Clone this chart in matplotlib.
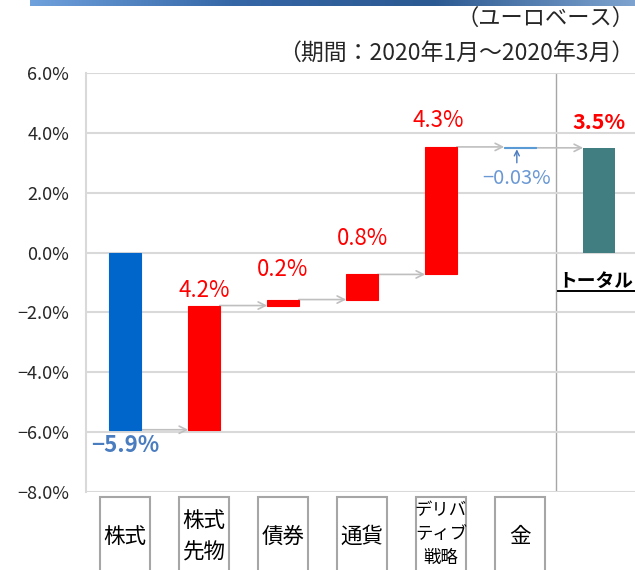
import numpy as np
import matplotlib.pyplot as plt
import matplotlib.transforms as mtransforms
from matplotlib.patches import Rectangle
from matplotlib.colors import LinearSegmentedColormap

plt.rcParams['font.family'] = ['Noto Sans CJK JP', 'DejaVu Sans']

# data
categories = ['株式', '株式\n先物', '債券', '通貨', 'デリバ\nティブ\n戦略', '金']
changes = [-5.92, 4.15, 0.20, 0.84, 4.26, -0.03]
change_labels = ['−5.9%', '4.2%', '0.2%', '0.8%', '4.3%', '−0.03%']
total = 3.50
total_label = '3.5%'
yticks = np.arange(-8, 7, 2)

# label placement (offset from bar end, in % units)
label_offsets = [-0.51, 0.5, 1.0, 1.2, 0.87, -1.03]

fig = plt.figure(figsize=(6.35, 5.7), dpi=100)

# header strip
hx = fig.add_axes([30/635, 1 - 6/570, 605/635, 6/570])
cmap = LinearSegmentedColormap.from_list('hdr', ['#6fa1dd', '#3566a6', '#2b5991', '#7ea3cf'])
hx.imshow(np.linspace(0, 1, 256)[None, :], aspect='auto', cmap=cmap)
hx.axis('off')

ax = fig.add_axes([86/635, 78/570, 549/635, 419/570])

x = np.arange(len(categories))
ends = np.cumsum(changes)
starts = ends - np.array(changes)
colors = ['#0066cc', '#ff0000', '#ff0000', '#ff0000', '#ff0000', '#5b9bd5']
ax.bar(x, changes, bottom=starts, width=0.4, color=colors, edgecolor=colors, linewidth=0.8, zorder=3)
ax.bar(len(categories), total, width=0.4, color='#417e82', zorder=3)

# connectors
nxt = list(x[1:]) + [len(categories)]
for i in range(len(categories)):
    ax.annotate('', xy=(nxt[i] - 0.2, ends[i]), xytext=(x[i] + 0.2, ends[i]),
                arrowprops=dict(arrowstyle='->', color='#bfbfbf', lw=1.2,
                                shrinkA=0, shrinkB=0, mutation_scale=13), zorder=2)

# value labels
for i in range(len(categories)):
    if i == 0:
        ax.text(x[i], ends[i] + label_offsets[i], change_labels[i], ha='center', va='center',
                color='#4a7cc0', fontsize=16, fontweight='bold')
    elif i == 5:
        ax.text(x[i] - 0.04, ends[i] + label_offsets[i], change_labels[i], ha='center', va='center',
                color='#6a98d4', fontsize=14.5)
        ax.annotate('', xy=(x[i] - 0.04, ends[i] - 0.05), xytext=(x[i] - 0.04, ends[i] - 0.5),
                    arrowprops=dict(arrowstyle='->', color='#4a7cc0', lw=1.0,
                                    shrinkA=0, shrinkB=0, mutation_scale=9))
    else:
        top = max(starts[i], ends[i])
        ax.text(x[i] - (0.04 if i == 4 else 0), top + label_offsets[i], change_labels[i],
                ha='center', va='center', color='#ff0000', fontsize=16)

ax.text(len(categories), total + 0.83, total_label, ha='center', va='center',
        color='#ff0000', fontsize=15.5, fontweight='bold')
ax.text(5.48, -0.97, 'トータル', ha='left', va='center', color='black',
        fontsize=13.5, fontweight='bold', clip_on=False)
ax.plot([5.48, 6.46], [-1.3, -1.3], color='black', lw=1.4, clip_on=False)

ax.axvline(5.456, color='#a6a6a6', lw=1.0, zorder=1)

# category boxes below the axis
trans = mtransforms.blended_transform_factory(ax.transData, ax.transAxes)
for i, cat in enumerate(categories):
    ax.add_patch(Rectangle((x[i] - 0.32, -0.3), 0.64, 0.288, transform=trans,
                           facecolor='white', edgecolor='#a6a6a6', lw=1.5, clip_on=False))
    if cat.count('\n') == 2:
        ax.text(x[i], -0.100, cat, transform=trans, ha='center', va='center',
                fontsize=12.5, linespacing=1.45, color='black')
    else:
        ax.text(x[i], -0.107, cat, transform=trans, ha='center', va='center',
                fontsize=15.5, linespacing=1.6, color='black')

ax.set_xlim(-0.494, 6.456)
ax.set_ylim(-8, 6)
ax.set_yticks(yticks)
ax.set_yticklabels([f'{v:.1f}%'.replace('-', '−') for v in yticks])
ax.set_xticks([])
ax.tick_params(axis='y', length=0, pad=12, labelsize=13, labelcolor='#262626')
ax.grid(axis='y', color='#d9d9d9', lw=1.5, zorder=0)
for s in ['top', 'right', 'bottom']:
    ax.spines[s].set_visible(False)
ax.spines['left'].set_color('#d9d9d9')
ax.spines['left'].set_linewidth(1.5)

fig.text(0.999, 1 - 18/570, '（ユーロベース）', ha='right', va='center', fontsize=16, color='#262626')
fig.text(0.999, 1 - 53/570, '（期間：2020年1月～2020年3月）', ha='right', va='center', fontsize=16.5, color='#262626')

fig.savefig('out.png', dpi=100)
